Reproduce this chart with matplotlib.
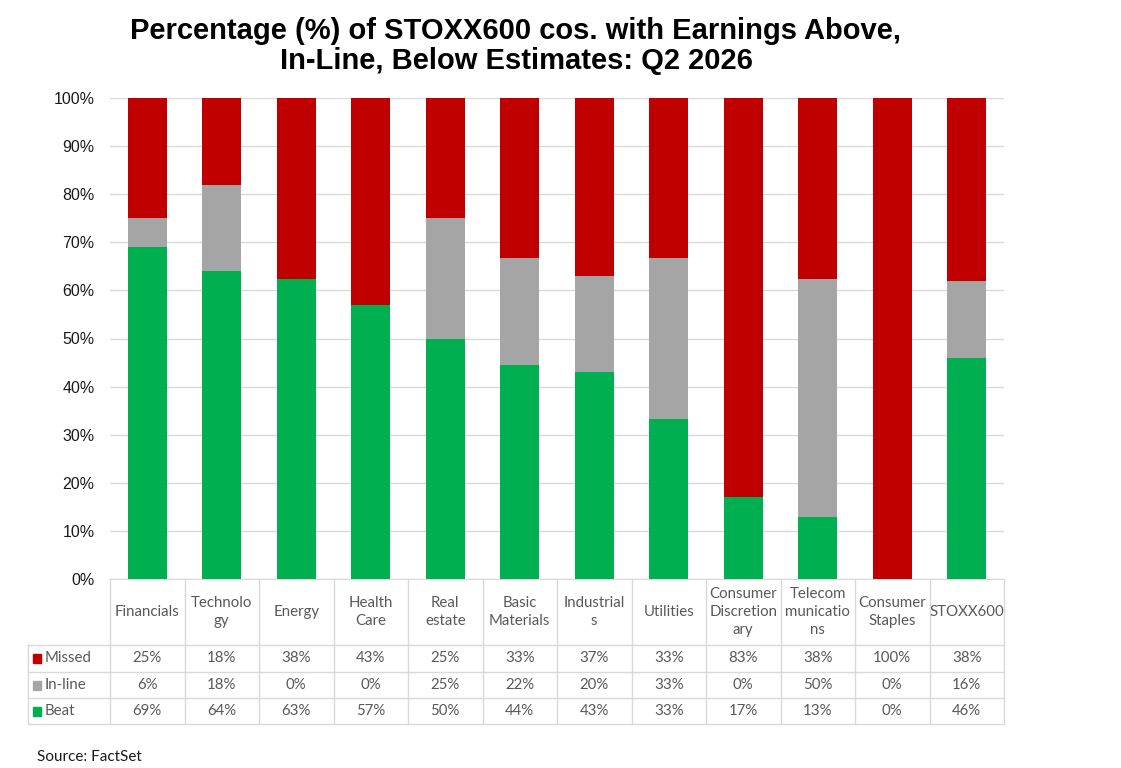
import matplotlib.pyplot as plt
import matplotlib.transforms as mtransforms
from matplotlib.patches import Rectangle

sectors = ['Financials', 'Technolo\ngy', 'Energy', 'Health\nCare', 'Real\nestate',
           'Basic\nMaterials', 'Industrial\ns', 'Utilities', 'Consumer\nDiscretion\nary',
           'Telecom\nmunicatio\nns', 'Consumer\nStaples', 'STOXX600']
missed = [25, 18, 38, 43, 25, 33, 37, 33, 83, 38, 100, 38]
inline = [6, 18, 0, 0, 25, 22, 20, 33, 0, 50, 0, 16]
beat = [69, 64, 63, 57, 50, 44, 43, 33, 17, 13, 0, 46]

series_names = ['Missed', 'In-line', 'Beat']
colors = {'Missed': '#C00000', 'In-line': '#A5A5A5', 'Beat': '#00B050'}

W, H = 1121, 768
fig = plt.figure(figsize=(W / 100, H / 100), dpi=100)
plt.rcParams['font.family'] = ['Liberation Sans', 'DejaVu Sans']

def fx(px):
    return px / W

def fy(py):
    return 1 - py / H

top_px, bot_px, left_px, right_px = 98, 579, 110, 1004
ax = fig.add_axes([fx(left_px), fy(bot_px), fx(right_px) - fx(left_px), fy(top_px) - fy(bot_px)])

# 100% stacked bars
n = len(sectors)
x = list(range(n))
totals = [b + i + m for b, i, m in zip(beat, inline, missed)]
beat_p = [100 * b / t for b, t in zip(beat, totals)]
inline_p = [100 * i / t for i, t in zip(inline, totals)]
missed_p = [100 * m / t for m, t in zip(missed, totals)]

bw = 0.52
ax.bar(x, beat_p, width=bw, color=colors['Beat'], zorder=3)
ax.bar(x, inline_p, width=bw, bottom=beat_p, color=colors['In-line'], zorder=3)
ax.bar(x, missed_p, width=bw, bottom=[b + i for b, i in zip(beat_p, inline_p)],
       color=colors['Missed'], zorder=3)

ax.set_xlim(-0.5, n - 0.5)
ax.set_ylim(0, 100)
ax.set_yticks(range(0, 101, 10))
ax.set_yticklabels([f'{v}%' for v in range(0, 101, 10)], fontsize=11.5, color='#1a1a1a')
ax.tick_params(axis='y', length=0, pad=11)
ax.set_xticks([])
ax.yaxis.grid(True, color='#d9d9d9', linewidth=1, zorder=0)
for s in ['top', 'left', 'right']:
    ax.spines[s].set_visible(False)
ax.spines['bottom'].set_color('#d9d9d9')

# data table below the plot
grid_c = '#d9d9d9'
txt_c = '#595959'
tfont = ['Lato', 'DejaVu Sans']
blend = mtransforms.blended_transform_factory(ax.transData, fig.transFigure)
row_lines = [645, 672, 698, 724]
row_centers = [658.5, 685, 711]

for i in range(n + 1):
    ax.plot([i - 0.5, i - 0.5], [fy(bot_px), fy(row_lines[-1])], color=grid_c, lw=1,
            transform=blend, clip_on=False)
ax.plot([fx(28), fx(28)], [fy(row_lines[0]), fy(row_lines[-1])], color=grid_c, lw=1,
        transform=fig.transFigure, clip_on=False)
for py in row_lines:
    ax.plot([fx(28), fx(right_px)], [fy(py), fy(py)], color=grid_c, lw=1,
            transform=fig.transFigure, clip_on=False)

for i, name in enumerate(sectors):
    ax.text(i, fy(612), name, ha='center', va='center', fontsize=10.8, color=txt_c,
            family=tfont, linespacing=1.4, transform=blend)

table_rows = [missed, inline, beat]
for name, vals, cy in zip(series_names, table_rows, row_centers):
    fig.patches.append(Rectangle((fx(33), fy(cy + 4.5)), 8 / W, 9 / H, color=colors[name],
                                 transform=fig.transFigure))
    fig.text(fx(45), fy(cy), name, ha='left', va='center', fontsize=10.8, color=txt_c,
             family=tfont)
    for i, v in enumerate(vals):
        ax.text(i, fy(cy), f'{v}%', ha='center', va='center', fontsize=10.8, color=txt_c,
                family=tfont, transform=blend)

fig.text(fx(516), fy(46), 'Percentage (%) of STOXX600 cos. with Earnings Above,\nIn-Line, Below Estimates: Q2 2026',
         ha='center', va='center', fontsize=21, fontweight='bold', linespacing=1.1)
fig.text(fx(37), fy(757), 'Source: FactSet', ha='left', va='center', fontsize=11,
         family=tfont, color='#1a1a1a')

fig.savefig('out.png', dpi=100)
